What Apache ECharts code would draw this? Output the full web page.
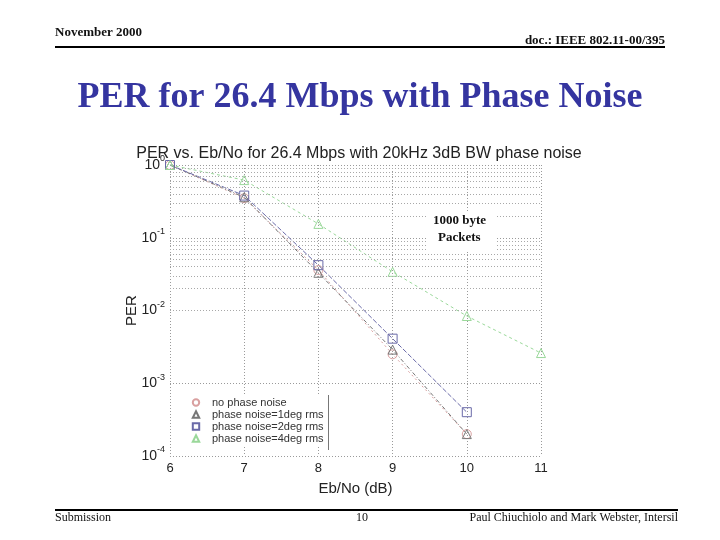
<!DOCTYPE html>
<html>
<head>
<meta charset="utf-8">
<script src="https://cdn.jsdelivr.net/npm/echarts@6/dist/echarts.min.js"></script>
<style>
  html, body { margin: 0; padding: 0; background: #fff; }
  #chart { width: 720px; height: 540px; }
</style>
</head>
<body>
<div id="chart"></div>
<script>
// Eb/No values (dB)
const ebno = [6, 7, 8, 9, 10, 11];

// PER values
const noPhaseNoise = [1.0, 0.35, 0.036, 0.0025, 0.0002];
const noise1deg = [1.0, 0.36, 0.033, 0.0029, 0.0002];
const noise2deg = [1.0, 0.38, 0.042, 0.0041, 0.0004];
const noise4deg = [1.0, 0.62, 0.155, 0.034, 0.0084, 0.0026];

const seriesNames = [
    'no phase noise',
    'phase noise=1deg rms',
    'phase noise=2deg rms',
    'phase noise=4deg rms'
];

const decades = [-4, -3, -2, -1, 0];

// log grid values 2..9 x 10^k for the dotted minor grid
const minorGrid = [];
decades.slice(0, -1).forEach(k => {
    for (let m = 2; m <= 9; m++) minorGrid.push(m * Math.pow(10, k));
});

function pairs(values) {
    return values.map((v, i) => [ebno[i], v]);
}

const chart = echarts.init(document.getElementById('chart'));

const gridLine = { color: '#9a9a9a', type: [1, 2], width: 1 };

function makeSeries(name, values, color, symbol, dash) {
    return {
        name: name,
        type: 'line',
        data: pairs(values),
        symbol: symbol,
        symbolSize: 9,
        showSymbol: true,
        itemStyle: { color: 'transparent', borderColor: color, borderWidth: 1 },
        lineStyle: { color: color, width: 1, type: dash },
        z: 3
    };
}

const option = {
    animation: false,
    backgroundColor: '#fff',
    title: {
        text: 'PER vs. Eb/No for 26.4 Mbps with 20kHz 3dB BW phase noise',
        left: 354,
        textAlign: 'center',
        top: 141,
        textStyle: { fontFamily: 'Liberation Sans', fontSize: 16, fontWeight: 'normal', color: '#222' }
    },
    grid: { left: 170, right: 179, top: 165, bottom: 84 },
    xAxis: {
        type: 'value',
        min: 6,
        max: 11,
        interval: 1,
        name: 'Eb/No (dB)',
        nameLocation: 'middle',
        nameGap: 25,
        nameMoveOverlap: false,
        nameTextStyle: { fontFamily: 'Liberation Sans', fontSize: 15, color: '#222' },
        axisLine: { show: false },
        axisTick: { show: false },
        axisLabel: { fontFamily: 'Liberation Sans', fontSize: 13, color: '#222', margin: 6 },
        splitLine: { show: true, lineStyle: gridLine }
    },
    yAxis: {
        type: 'log',
        logBase: 10,
        min: 1e-4,
        max: 1,
        name: 'PER',
        nameLocation: 'middle',
        nameGap: 31,
        nameMoveOverlap: false,
        nameRotate: 90,
        nameTextStyle: { fontFamily: 'Liberation Sans', fontSize: 15, color: '#222' },
        axisLine: { show: false },
        axisTick: { show: false },
        axisLabel: {
            margin: 5,
            formatter: function (v) {
                const e = Math.round(Math.log10(v));
                return '{b|10}{s|' + e + '}';
            },
            rich: {
                b: { fontFamily: 'Liberation Sans', fontSize: 14, color: '#222' },
                s: { fontFamily: 'Liberation Sans', fontSize: 9, color: '#222', verticalAlign: 'top', padding: [0, 0, 12, 0] }
            }
        },
        splitLine: { show: true, lineStyle: gridLine }
    },
    legend: {
        orient: 'vertical',
        left: 180,
        top: 394,
        itemGap: 1,
        itemWidth: 22,
        itemHeight: 8,
        padding: [3, 8, 3, 4],
        backgroundColor: '#fff',
        lineStyle: { opacity: 0 },
        textStyle: { fontFamily: 'Liberation Sans', fontSize: 11, color: '#333' },
        data: seriesNames
    },
    series: [
        makeSeries(seriesNames[0], noPhaseNoise, '#d9a0a0', 'circle', [2, 3]),
        makeSeries(seriesNames[1], noise1deg, '#777777', 'triangle', [4, 2, 1, 2]),
        makeSeries(seriesNames[2], noise2deg, '#6a6aa8', 'rect', [5, 2]),
        makeSeries(seriesNames[3], noise4deg, '#9ad89a', 'triangle', [3, 3]),
        {
            name: 'minor',
            type: 'line',
            data: [],
            silent: true,
            markLine: {
                silent: true,
                symbol: 'none',
                label: { show: false },
                lineStyle: { color: '#a8a8a8', type: [1, 2], width: 1 },
                data: minorGrid.map(v => ({ yAxis: v }))
            },
            z: 1
        }
    ],
    graphic: [
        { type: 'text', left: 55, top: 26, style: { text: 'November 2000', font: 'bold 13px "Liberation Serif"', fill: '#111' } },
        { type: 'text', right: 55, top: 34, style: { text: 'doc.: IEEE 802.11-00/395', font: 'bold 13px "Liberation Serif"', fill: '#111' } },
        { type: 'rect', shape: { x: 55, y: 46, width: 610, height: 2 }, style: { fill: '#000' } },
        { type: 'text', left: 'center', top: 80, style: { text: 'PER for 26.4 Mbps with Phase Noise', font: 'bold 36px "Liberation Serif"', fill: '#3535a0' } },
        { type: 'rect', shape: { x: 426, y: 212, width: 71, height: 38 }, style: { fill: '#fff' }, z: 10 },
        { type: 'text', left: 433, top: 214, z: 11, style: { text: '1000 byte', font: 'bold 13px "Liberation Serif"', fill: '#111' } },
        { type: 'text', left: 438, top: 231, z: 11, style: { text: 'Packets', font: 'bold 13px "Liberation Serif"', fill: '#111' } },
        { type: 'rect', shape: { x: 328, y: 395, width: 1, height: 55 }, style: { fill: '#777' }, z: 12 },
        { type: 'rect', shape: { x: 55, y: 509, width: 623, height: 2 }, style: { fill: '#000' } },
        { type: 'text', left: 55, top: 512, style: { text: 'Submission', font: '12px "Liberation Serif"', fill: '#111' } },
        { type: 'text', left: 356, top: 512, style: { text: '10', font: '12px "Liberation Serif"', fill: '#111' } },
        { type: 'text', right: 42, top: 512, style: { text: 'Paul Chiuchiolo and Mark Webster, Intersil', font: '12px "Liberation Serif"', fill: '#111' } }
    ]
};

chart.setOption(option);
</script>
</body>
</html>
